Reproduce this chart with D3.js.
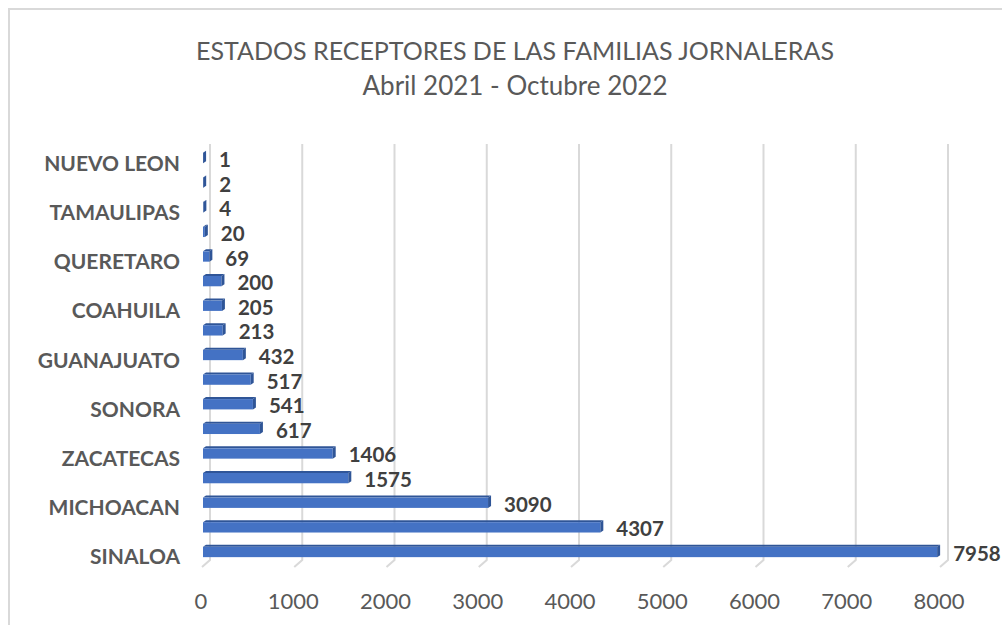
<!DOCTYPE html>
<html><head><meta charset="utf-8">
<script src="https://cdn.jsdelivr.net/npm/d3@7"></script>
<style>
html,body{margin:0;padding:0;background:#fff;overflow:hidden;}
svg{display:block;}
</style></head>
<body>
<svg id="chart" width="1002" height="625"></svg>
<script>
// Data (bottom to top). Empty labels = categories whose names Excel skipped.
const categories = ["SINALOA", "", "MICHOACAN", "", "ZACATECAS", "", "SONORA", "", "GUANAJUATO", "", "COAHUILA", "", "QUERETARO", "", "TAMAULIPAS", "", "NUEVO LEON"];
const values = [7958, 4307, 3090, 1575, 1406, 617, 541, 517, 432, 213, 205, 200, 69, 20, 4, 2, 1];
const ticks = [0, 1000, 2000, 3000, 4000, 5000, 6000, 7000, 8000];
const titleLines = ["ESTADOS RECEPTORES DE LAS FAMILIAS JORNALERAS", "Abril 2021 - Octubre 2022"];

(function () {
const svg = d3.select("#chart");
const font = "Lato, 'Open Sans', sans-serif";

// chart border
svg.append("rect").attr("x", 9).attr("y", 9).attr("width", 1100).attr("height", 700)
  .attr("fill", "none").attr("stroke", "#d9d9d9").attr("stroke-width", 2);

// title
svg.append("text").attr("x", 515).attr("y", 50).attr("text-anchor", "middle")
  .attr("dominant-baseline", "central").attr("font-family", font).attr("font-weight", 400)
  .attr("font-size", 25).attr("fill", "#595959").text(titleLines[0]);
svg.append("text").attr("x", 515).attr("y", 85).attr("text-anchor", "middle")
  .attr("dominant-baseline", "central").attr("font-family", font).attr("font-weight", 400)
  .attr("font-size", 26).attr("fill", "#595959").text(titleLines[1]);

const x = d3.scaleLinear().domain([0, 8000]).range([203, 941]);
const y = d3.scaleBand().domain(d3.range(categories.length)).range([563.3, 144.7])
  .paddingInner(0.5).paddingOuter(0.25);
const bw = y.bandwidth();
const dx = 7;

// gridlines (back wall + floor diagonal)
const grid = svg.append("g");
ticks.forEach(t => {
  const fx = x(t);
  grid.append("path")
    .attr("d", `M${fx + dx},144 L${fx + dx},560 L${fx - 1},567`)
    .attr("fill", "none").attr("stroke", "#d9d9d9").attr("stroke-width", 2);
});

// x tick labels
svg.append("g").selectAll("text").data(ticks).join("text")
  .attr("x", d => x(d) - 2).attr("y", 600).attr("text-anchor", "middle")
  .attr("dominant-baseline", "central").attr("font-family", font)
  .attr("font-size", 22).attr("fill", "#595959").text(d => d);

// bars
const depth = 3, topH = 2;
const bars = svg.append("g");
values.forEach((v, i) => {
  const x0 = x(0), x1 = x(v), yt = y(i), yb = y(i) + bw;
  bars.append("polygon")
    .attr("points", `${x0},${yt + topH} ${x0 + depth},${yt} ${x1 + depth},${yt} ${x1},${yt + topH}`)
    .attr("fill", "#2f5597");
  bars.append("rect").attr("x", x0).attr("y", yt + topH).attr("width", Math.max(0, x1 - x0))
    .attr("height", bw - topH).attr("fill", "#4472c4");
  bars.append("polygon")
    .attr("points", `${x1},${yt + topH} ${x1 + depth},${yt} ${x1 + depth},${yb - topH} ${x1},${yb}`)
    .attr("fill", "#2f5597");
});

// value labels
svg.append("g").selectAll("text").data(values).join("text")
  .attr("x", d => x(d) + 16).attr("y", (d, i) => y(i) + bw / 2 + 2)
  .attr("dominant-baseline", "central").attr("font-family", font).attr("font-weight", 700)
  .attr("font-size", 20.5).attr("fill", "#404040").text(d => d);

// category labels
svg.append("g").selectAll("text").data(categories).join("text")
  .attr("x", 180).attr("y", (d, i) => y(i) + bw / 2 + 5).attr("text-anchor", "end")
  .attr("dominant-baseline", "central").attr("font-family", font).attr("font-weight", 700)
  .attr("font-size", 21).attr("fill", "#595959").text(d => d);
})();
</script>
</body></html>
